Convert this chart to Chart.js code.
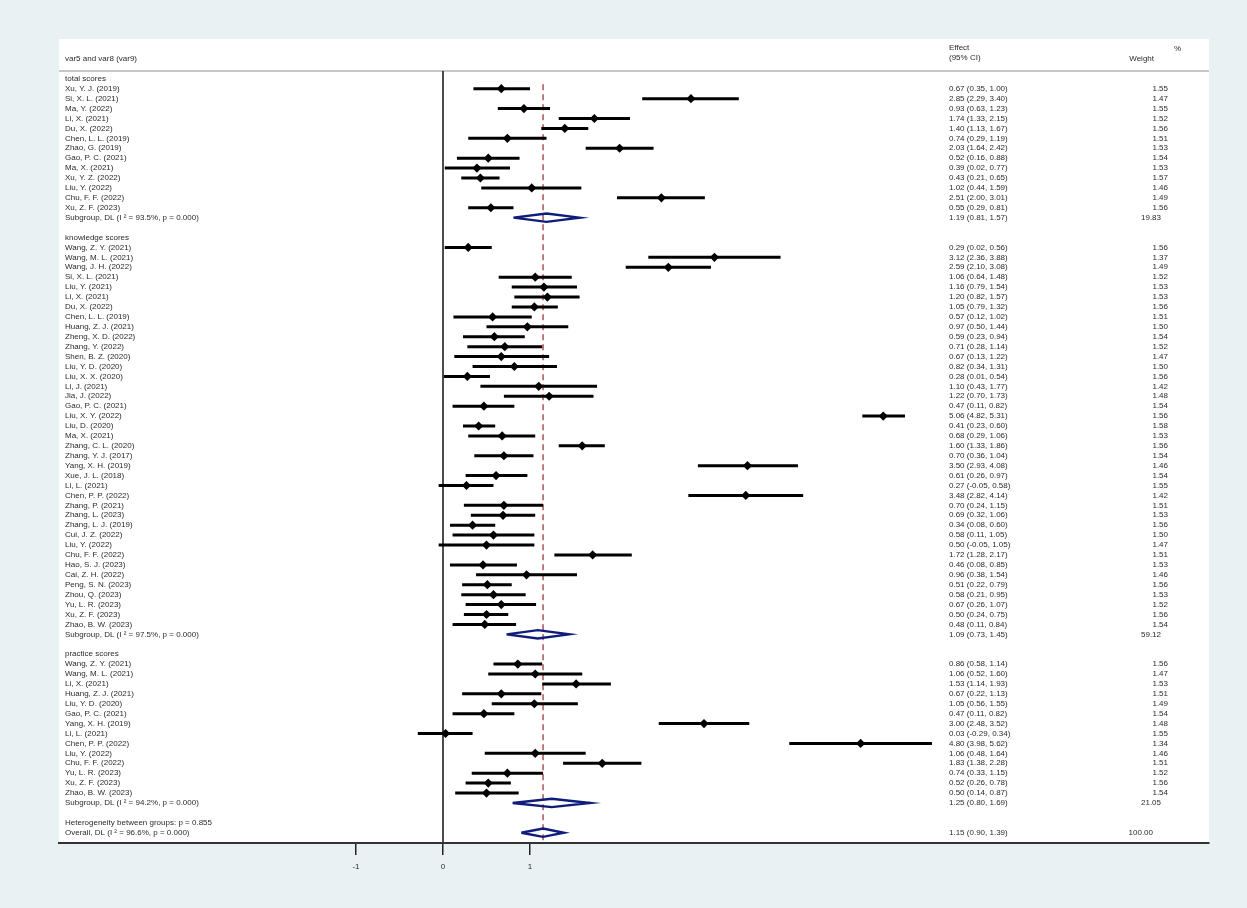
<!DOCTYPE html>
<html>
<head>
<meta charset="utf-8">
<script src="https://cdn.jsdelivr.net/npm/chart.js@4.4.1/dist/chart.umd.min.js"></script>
<style>
  html, body { margin: 0; padding: 0; background: #e9f1f3; }
  #wrap { width: 1247px; height: 908px; }
</style>
</head>
<body>
<div id="wrap"><canvas id="forest" width="1247" height="908"></canvas></div>
<script>
// ── Données ───────────────────────────────────────────────────────────────────
const groupTitles = ['total scores', 'knowledge scores', 'practice scores'];

const totalNames = ['Xu, Y. J. (2019)', 'Si, X. L. (2021)', 'Ma, Y. (2022)', 'Li, X. (2021)', 'Du, X. (2022)',
  'Chen, L. L. (2019)', 'Zhao, G. (2019)', 'Gao, P. C. (2021)', 'Ma, X. (2021)', 'Xu, Y. Z. (2022)',
  'Liu, Y. (2022)', 'Chu, F. F. (2022)', 'Xu, Z. F. (2023)'];
const totalEs = [0.67, 2.85, 0.93, 1.74, 1.40, 0.74, 2.03, 0.52, 0.39, 0.43, 1.02, 2.51, 0.55];
const totalLo = [0.35, 2.29, 0.63, 1.33, 1.13, 0.29, 1.64, 0.16, 0.02, 0.21, 0.44, 2.00, 0.29];
const totalHi = [1.00, 3.40, 1.23, 2.15, 1.67, 1.19, 2.42, 0.88, 0.77, 0.65, 1.59, 3.01, 0.81];
const totalW  = [1.55, 1.47, 1.55, 1.52, 1.56, 1.51, 1.53, 1.54, 1.53, 1.57, 1.46, 1.49, 1.56];

const knowNames = ['Wang, Z. Y. (2021)', 'Wang, M. L. (2021)', 'Wang, J. H. (2022)', 'Si, X. L. (2021)',
  'Liu, Y. (2021)', 'Li, X. (2021)', 'Du, X. (2022)', 'Chen, L. L. (2019)', 'Huang, Z. J. (2021)',
  'Zheng, X. D. (2022)', 'Zhang, Y. (2022)', 'Shen, B. Z. (2020)', 'Liu, Y. D. (2020)', 'Liu, X. X. (2020)',
  'Li, J. (2021)', 'Jia, J. (2022)', 'Gao, P. C. (2021)', 'Liu, X. Y. (2022)', 'Liu, D. (2020)',
  'Ma, X. (2021)', 'Zhang, C. L. (2020)', 'Zhang, Y. J. (2017)', 'Yang, X. H. (2019)', 'Xue, J. L. (2018)',
  'Li, L. (2021)', 'Chen, P. P. (2022)', 'Zhang, P. (2021)', 'Zhang, L. (2023)', 'Zhang, L. J. (2019)',
  'Cui, J. Z. (2022)', 'Liu, Y. (2022)', 'Chu, F. F. (2022)', 'Hao, S. J. (2023)', 'Cai, Z. H. (2022)',
  'Peng, S. N. (2023)', 'Zhou, Q. (2023)', 'Yu, L. R. (2023)', 'Xu, Z. F. (2023)', 'Zhao, B. W. (2023)'];
const knowEs = [0.29, 3.12, 2.59, 1.06, 1.16, 1.20, 1.05, 0.57, 0.97, 0.59, 0.71, 0.67, 0.82, 0.28, 1.10,
  1.22, 0.47, 5.06, 0.41, 0.68, 1.60, 0.70, 3.50, 0.61, 0.27, 3.48, 0.70, 0.69, 0.34, 0.58, 0.50, 1.72,
  0.46, 0.96, 0.51, 0.58, 0.67, 0.50, 0.48];
const knowLo = [0.02, 2.36, 2.10, 0.64, 0.79, 0.82, 0.79, 0.12, 0.50, 0.23, 0.28, 0.13, 0.34, 0.01, 0.43,
  0.70, 0.11, 4.82, 0.23, 0.29, 1.33, 0.36, 2.93, 0.26, -0.05, 2.82, 0.24, 0.32, 0.08, 0.11, -0.05, 1.28,
  0.08, 0.38, 0.22, 0.21, 0.26, 0.24, 0.11];
const knowHi = [0.56, 3.88, 3.08, 1.48, 1.54, 1.57, 1.32, 1.02, 1.44, 0.94, 1.14, 1.22, 1.31, 0.54, 1.77,
  1.73, 0.82, 5.31, 0.60, 1.06, 1.86, 1.04, 4.08, 0.97, 0.58, 4.14, 1.15, 1.06, 0.60, 1.05, 1.05, 2.17,
  0.85, 1.54, 0.79, 0.95, 1.07, 0.75, 0.84];
const knowW  = [1.56, 1.37, 1.49, 1.52, 1.53, 1.53, 1.56, 1.51, 1.50, 1.54, 1.52, 1.47, 1.50, 1.56, 1.42,
  1.48, 1.54, 1.56, 1.58, 1.53, 1.56, 1.54, 1.46, 1.54, 1.55, 1.42, 1.51, 1.53, 1.56, 1.50, 1.47, 1.51,
  1.53, 1.46, 1.56, 1.53, 1.52, 1.56, 1.54];

const pracNames = ['Wang, Z. Y. (2021)', 'Wang, M. L. (2021)', 'Li, X. (2021)', 'Huang, Z. J. (2021)',
  'Liu, Y. D. (2020)', 'Gao, P. C. (2021)', 'Yang, X. H. (2019)', 'Li, L. (2021)', 'Chen, P. P. (2022)',
  'Liu, Y. (2022)', 'Chu, F. F. (2022)', 'Yu, L. R. (2023)', 'Xu, Z. F. (2023)', 'Zhao, B. W. (2023)'];
const pracEs = [0.86, 1.06, 1.53, 0.67, 1.05, 0.47, 3.00, 0.03, 4.80, 1.06, 1.83, 0.74, 0.52, 0.50];
const pracLo = [0.58, 0.52, 1.14, 0.22, 0.56, 0.11, 2.48, -0.29, 3.98, 0.48, 1.38, 0.33, 0.26, 0.14];
const pracHi = [1.14, 1.60, 1.93, 1.13, 1.55, 0.82, 3.52, 0.34, 5.62, 1.64, 2.28, 1.15, 0.78, 0.87];
const pracW  = [1.56, 1.47, 1.53, 1.51, 1.49, 1.54, 1.48, 1.55, 1.34, 1.46, 1.51, 1.52, 1.56, 1.54];

// sous-groupes : total, knowledge, practice
const subEs = [1.19, 1.09, 1.25];
const subLo = [0.81, 0.73, 0.80];
const subHi = [1.57, 1.45, 1.69];
const subW  = [19.83, 59.12, 21.05];
const subI2 = [93.5, 97.5, 94.2];

const overallEs = 1.15, overallLo = 0.90, overallHi = 1.39, overallW = 100.00, overallI2 = 96.6;
const hetP = 0.855;
const xTicks = [-1, 0, 1];

// ── Construction des lignes ───────────────────────────────────────────────────
const rows = [];
function addGroup(g, names, es, lo, hi, w) {
  rows.push({ type: 'title', label: groupTitles[g] });
  names.forEach((n, i) => rows.push({ type: 'study', label: n, es: es[i], lo: lo[i], hi: hi[i], w: w[i] }));
  rows.push({ type: 'sub', label: `Subgroup, DL (I ² = ${subI2[g].toFixed(1)}%, p = 0.000)`,
    es: subEs[g], lo: subLo[g], hi: subHi[g], w: subW[g] });
  rows.push({ type: 'blank' });
}
addGroup(0, totalNames, totalEs, totalLo, totalHi, totalW);
addGroup(1, knowNames, knowEs, knowLo, knowHi, knowW);
addGroup(2, pracNames, pracEs, pracLo, pracHi, pracW);
rows.push({ type: 'het', label: `Heterogeneity between groups: p = ${hetP.toFixed(3)}` });
rows.push({ type: 'overall', label: `Overall, DL (I ² = ${overallI2.toFixed(1)}%, p = 0.000)`,
  es: overallEs, lo: overallLo, hi: overallHi, w: overallW });

const ROW_PX = 9.92, ROW0_PX = 78.8, TOP_PX = 39, BOTTOM_PX = 843;
const Y_MIN = (TOP_PX - ROW0_PX) / ROW_PX;
const Y_MAX = (BOTTOM_PX - ROW0_PX) / ROW_PX;
const HEADER_ROW = -0.78;
const DIAMOND_H = 0.42;

const ciPts = [], markPts = [], diaPts = [];
rows.forEach((r, i) => {
  if (r.type === 'study') {
    ciPts.push({ x: r.lo, y: i }, { x: r.hi, y: i }, { x: NaN, y: NaN });
    markPts.push({ x: r.es, y: i });
  } else if (r.type === 'sub' || r.type === 'overall') {
    diaPts.push({ x: r.lo, y: i }, { x: r.es, y: i - DIAMOND_H }, { x: r.hi, y: i },
      { x: r.es, y: i + DIAMOND_H }, { x: r.lo, y: i }, { x: NaN, y: NaN });
  }
});

const FONT = '8px "Liberation Sans", Arial, sans-serif';
const TXT = '#2a2a2a';

// ── Plugins ───────────────────────────────────────────────────────────────────
const framePlugin = {
  id: 'frame',
  beforeDraw(chart) {
    const { ctx, chartArea: a, scales: { x, y } } = chart;
    ctx.save();
    ctx.fillStyle = '#e9f1f3';
    ctx.fillRect(0, 0, chart.width, chart.height);
    ctx.fillStyle = '#ffffff';
    ctx.fillRect(a.left, a.top, a.right - a.left, a.bottom - a.top);
    const hy = y.getPixelForValue(HEADER_ROW);
    ctx.strokeStyle = '#b4b4b4';
    ctx.lineWidth = 1.5;
    ctx.beginPath(); ctx.moveTo(a.left, hy); ctx.lineTo(a.right, hy); ctx.stroke();
    const zx = x.getPixelForValue(0);
    ctx.strokeStyle = '#111';
    ctx.lineWidth = 1.5;
    ctx.beginPath(); ctx.moveTo(zx, hy); ctx.lineTo(zx, a.bottom); ctx.stroke();
    ctx.restore();
  },
};

const textPlugin = {
  id: 'texts',
  afterDraw(chart) {
    const { ctx, scales: { y } } = chart;
    ctx.save();
    ctx.font = FONT;
    ctx.fillStyle = TXT;
    ctx.textBaseline = 'middle';
    // en-têtes
    ctx.textAlign = 'left';
    ctx.fillText('var5 and var8 (var9)', 65, y.getPixelForValue(-2.05));
    ctx.fillText('Effect', 949, y.getPixelForValue(-3.12));
    ctx.fillText('(95% CI)', 949, y.getPixelForValue(-2.1));
    ctx.textAlign = 'right';
    ctx.fillText('%', 1181, y.getPixelForValue(-3.05));
    ctx.fillText('Weight', 1154, y.getPixelForValue(-2.05));

    rows.forEach((r, i) => {
      if (r.type === 'blank') return;
      const py = y.getPixelForValue(i);
      ctx.textAlign = 'left';
      ctx.fillText(r.label, 65, py);
      if (r.es === undefined) return;
      ctx.fillText(`${r.es.toFixed(2)} (${r.lo.toFixed(2)}, ${r.hi.toFixed(2)})`, 949, py);
      ctx.textAlign = 'right';
      const wx = r.type === 'study' ? 1168 : (r.type === 'sub' ? 1161 : 1153);
      ctx.fillText(r.w.toFixed(2), wx, py);
    });
    ctx.restore();
  },
};

// ── Graphique ─────────────────────────────────────────────────────────────────
new Chart(document.getElementById('forest'), {
  type: 'scatter',
  data: {
    datasets: [
      {
        label: 'effects', data: markPts, order: 1,
        pointStyle: 'rectRot', pointRadius: 4.6, backgroundColor: '#000', borderWidth: 0,
      },
      {
        label: 'pooled', data: diaPts, order: 2, showLine: true, spanGaps: false,
        borderColor: '#0f1c7c', borderWidth: 2.4, borderJoinStyle: 'miter', pointRadius: 0, fill: false,
      },
      {
        label: 'ci', data: ciPts, order: 3, showLine: true, spanGaps: false,
        borderColor: '#000', borderWidth: 3, pointRadius: 0, fill: false,
      },
      {
        label: 'overall', order: 4, showLine: true,
        data: [{ x: overallEs, y: 0.55 }, { x: overallEs, y: Y_MAX }],
        borderColor: '#a8454a', borderWidth: 1.4, borderDash: [6, 4], pointRadius: 0, fill: false,
      },
    ],
  },
  options: {
    responsive: false,
    devicePixelRatio: 1,
    animation: false,
    layout: { padding: { left: 59, right: 38, top: TOP_PX, bottom: 0 } },
    plugins: { legend: { display: false }, tooltip: { enabled: false } },
    elements: { line: { tension: 0 } },
    scales: {
      x: {
        type: 'linear',
        min: -(443 - 59) / 87,
        max: (1209 - 443) / 87,
        afterBuildTicks: axis => { axis.ticks = xTicks.map(v => ({ value: v })); },
        afterFit: axis => { axis.height = 908 - BOTTOM_PX; },
        border: { display: true, color: '#333', width: 2 },
        grid: { drawOnChartArea: false, drawTicks: true, tickLength: 12, color: '#222', lineWidth: 1.5 },
        ticks: { font: { family: '"Liberation Sans", Arial, sans-serif', size: 8 }, color: TXT, padding: 7,
          callback: v => String(v) },
      },
      y: { type: 'linear', display: false, reverse: true, min: Y_MIN, max: Y_MAX },
    },
  },
  plugins: [framePlugin, textPlugin],
});
</script>
</body>
</html>
